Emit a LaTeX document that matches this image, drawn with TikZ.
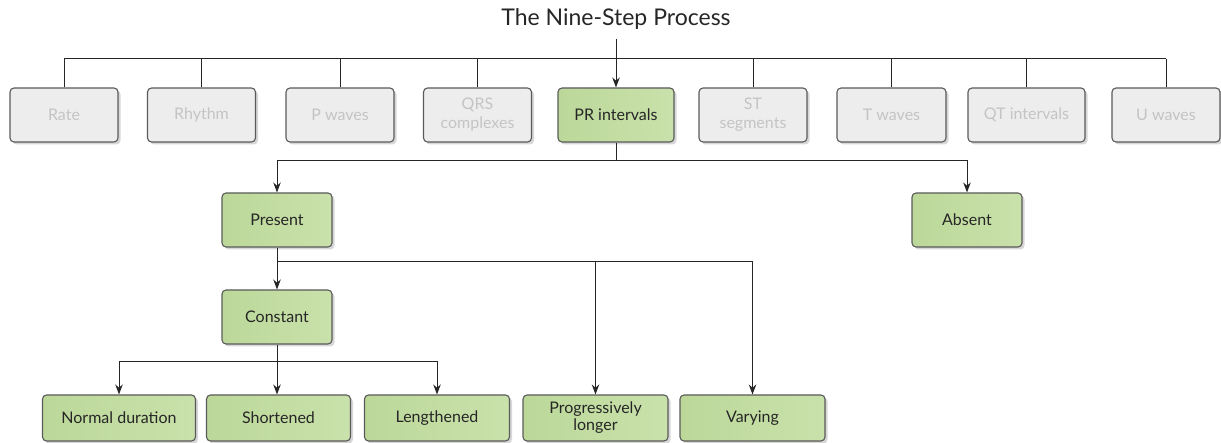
\documentclass[tikz,border=0pt]{standalone}
\usepackage{fontspec}
\setmainfont{Lato}
\usetikzlibrary{arrows.meta,shadows}
\definecolor{boxline}{HTML}{5A5A5A}
\definecolor{grayfill}{HTML}{EDEDED}
\definecolor{graytext}{HTML}{C4C4C4}
\definecolor{greenL}{HTML}{BCD899}
\definecolor{greenR}{HTML}{C9E1AB}
\definecolor{shadowc}{HTML}{BDBDBD}
\begin{document}
\begin{tikzpicture}[x=1pt,y=-1pt,
  base/.style={draw=boxline, line width=1.1pt, rounded corners=4pt, align=center,
    font=\fontsize{16}{19}\selectfont, inner sep=2pt,
    drop shadow={shadow xshift=2.5pt, shadow yshift=-2.5pt, fill=shadowc, opacity=0.6}},
  graybox/.style={base, fill=grayfill, text=graytext, minimum width=108pt, minimum height=54pt},
  greenbox/.style={base, left color=greenL, right color=greenR, text=black!85, minimum height=54pt},
  lowbox/.style={greenbox, minimum height=46pt},
  conn/.style={draw=black!85, line width=1pt},
  arr/.style={conn, -{Stealth[length=10pt,width=7.5pt]}}
]
\useasboundingbox (0,0) rectangle (1221,443);
\node[font=\fontsize{23}{26}\selectfont, text=black!85] (title) at (616,19) {The Nine-Step Process};

\node[graybox] (rate)   at (64,115)  {Rate};
\node[graybox] (rhythm) at (201.5,115) {Rhythm};
\node[graybox] (pw)     at (340,115) {P waves};
\node[graybox] (qrs)    at (477.5,115) {QRS\\complexes};
\node[greenbox, minimum width=116pt] (pr) at (616,115) {PR intervals};
\node[graybox] (st)     at (753,115) {ST\\segments};
\node[graybox, minimum width=109pt] (tw) at (891.5,115) {T waves};
\node[graybox, minimum width=117pt] (qt) at (1026.5,115) {QT intervals};
\node[graybox] (uw)     at (1166,115) {U waves};

\node[greenbox, minimum width=110pt] (present) at (277,220) {Present};
\node[greenbox, minimum width=110pt] (absent) at (967,220) {Absent};
\node[greenbox, minimum width=110pt] (constant) at (277,317) {Constant};

\node[lowbox, minimum width=153pt] (normal) at (119,418) {Normal duration};
\node[lowbox, minimum width=144pt] (short) at (278.5,418) {Shortened};
\node[lowbox, minimum width=145pt] (long) at (437,418) {Lengthened};
\node[lowbox, minimum width=145pt, font=\fontsize{16}{17}\selectfont] (prog) at (595.5,418) {Progressively\\longer};
\node[lowbox, minimum width=145pt] (vary) at (752.5,418) {Varying};

% top bus
\coordinate (bus) at (0,59);
\draw[conn] (rate.north |- bus) -- (uw.north |- bus);
\foreach \n in {rate,rhythm,pw,qrs,st,tw,qt,uw}
  \draw[conn] (\n.north) -- (\n.north |- bus);
\draw[arr, shorten <=6pt] (title.south) -- (pr.north);

% PR branch
\coordinate (b2) at (616,161);
\draw[conn] (pr.south) -- (b2);
\draw[arr] (b2) -| (present.north);
\draw[arr] (b2) -| (absent.north);

% Present branch
\coordinate (b3) at (277,262);
\draw[arr] (present.south) -- (constant.north);
\draw[arr] (b3) -| (prog.north);
\draw[arr] (b3) -| (vary.north);

% Constant branch
\coordinate (b4) at (277,362);
\draw[conn] (constant.south) -- (b4);
\draw[arr] (b4) -| (normal.north);
\draw[arr] (b4) -- (short.north -| b4);
\draw[arr] (b4) -| (long.north);
\end{tikzpicture}
\end{document}
